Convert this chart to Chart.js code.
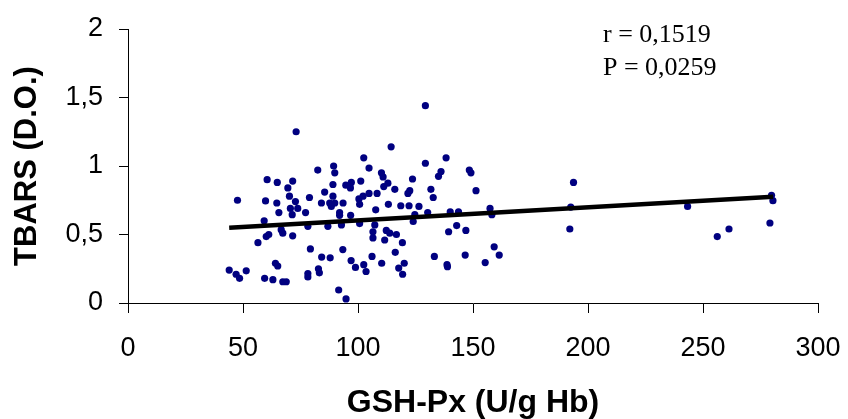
<!DOCTYPE html>
<html>
<head>
<meta charset="utf-8">
<script src="https://cdn.jsdelivr.net/npm/chart.js@4/dist/chart.umd.min.js"></script>
<style>
    html, body { margin: 0; padding: 0; background: #fff; }
    #wrap { width: 848px; height: 419px; }
</style>
</head>
<body>
<div id="wrap"><canvas id="scatter" width="848" height="419"></canvas></div>
<script>
// GSH-Px (U/g Hb) vs TBARS (D.O.)
var gshPx = [
    44, 47, 48.5, 51.4, 47.6, 59.4, 63, 67.3, 68.8, 64.1, 65.1, 56.5, 60.1, 61.2, 59.2, 66.6,
    67.3, 71.6, 59.8, 64.7, 60.5, 64.9, 71.6, 69.5, 70.2, 72.8, 78.9, 65.6, 70.6, 71.4, 73.8,
    77.2, 73.1, 82.5, 78.2, 79.3, 78.2, 78.2, 82.8, 83.2, 84.2, 87.9, 91.6, 94.8, 93.4, 97,
    98.9, 102.5, 103.5, 86.9,
    89.4, 89.9, 104.8, 102.5, 110.2, 110.9, 113, 111.2, 116, 101.2, 97.1, 96.7, 94.7, 89.1,
    85.5, 89.1, 123.7, 121.7, 122.5, 104.8, 102.2, 100.4, 108.3, 84.1, 87.7, 89.9, 88.4, 93.5,
    92, 92, 96.8, 100.7, 107.7, 113.2, 118.6, 122.2, 126.5, 124.7, 124, 92.8, 100.7, 106.5,
    107.3, 112.3, 113.8, 111.6, 116.7, 119.3, 106.5,
    129.3, 114.4, 129.3, 138.3, 136.1, 135, 148.4, 149.1, 151.3, 131.7, 132.7, 130.3, 140.1,
    143.7, 157.4, 158.2, 139.4, 142.9, 146.9, 116.2, 106.1, 110.3, 120.1, 117.7, 119.4, 133.2,
    138.7, 138.9, 146.6, 155.3, 159.2, 161.4, 193.7, 192.5, 192.1, 243.3, 256.2, 261.3, 279.8,
    280.4, 279.1
];
var tbars = [
    0.24, 0.21, 0.18, 0.235, 0.75, 0.18, 0.17, 0.155, 0.155, 0.29, 0.27, 0.44, 0.485, 0.50, 0.60, 0.535,
    0.51, 0.49, 0.745, 0.73, 0.90, 0.88, 0.89, 0.84, 0.78, 0.74, 0.77, 0.66, 0.69, 0.645, 0.69,
    0.66, 1.25, 0.97, 0.56, 0.395, 0.215, 0.19, 0.25, 0.22, 0.335, 0.33, 0.095, 0.03, 0.39, 0.31,
    0.26, 0.28, 0.23, 0.56,
    1.00, 0.95, 0.985, 1.06, 0.95, 0.92, 0.875, 0.85, 0.83, 0.89, 0.88, 0.84, 0.86, 0.865,
    0.81, 0.78, 0.905, 0.80, 0.82, 0.80, 0.78, 0.76, 0.80, 0.73, 0.73, 0.73, 0.705, 0.73,
    0.66, 0.64, 0.64, 0.72, 0.68, 0.72, 0.71, 0.71, 0.705, 0.645, 0.595, 0.57, 0.58, 0.52,
    0.57, 0.53, 0.51, 0.46, 0.50, 0.44, 0.475,
    1.44, 1.14, 1.02, 1.06, 0.96, 0.925, 0.97, 0.95, 0.82, 0.83, 0.77, 0.66, 0.665,
    0.665, 0.69, 0.645, 0.52, 0.565, 0.53, 0.37, 0.34, 0.29, 0.29, 0.255, 0.21, 0.34,
    0.28, 0.265, 0.35, 0.295, 0.41, 0.35, 0.88, 0.70, 0.54, 0.705, 0.485, 0.54, 0.786,
    0.747, 0.584
];

// linear trend line endpoints
var trendX = [44, 280.5];
var trendY = [0.55, 0.775];

var xTicks = [0, 50, 100, 150, 200, 250, 300];
var yTickLabels = ['0', '0,5', '1', '1,5', '2'];

var statsText = ['r = 0,1519', 'P = 0,0259'];

(function () {
    var points = gshPx.map(function (x, i) { return { x: x, y: tbars[i] }; });
    var trend = trendX.map(function (x, i) { return { x: x, y: trendY[i] }; });

    var sans = "'Liberation Sans', Arial, sans-serif";

    var statsPlugin = {
        id: 'stats',
        afterDraw: function (chart) {
            var ctx = chart.ctx;
            ctx.save();
            ctx.fillStyle = '#000';
            ctx.font = "26px 'Liberation Serif', 'Times New Roman', serif";
            ctx.textBaseline = 'alphabetic';
            ctx.textAlign = 'left';
            ctx.fillText(statsText[0], 603, 42);
            ctx.fillText(statsText[1], 603, 75);
            ctx.restore();
        }
    };

    new Chart(document.getElementById('scatter').getContext('2d'), {
        type: 'scatter',
        data: {
            datasets: [
                {
                    label: 'TBARS',
                    data: points,
                    backgroundColor: '#000080',
                    borderColor: '#000080',
                    borderWidth: 0,
                    pointRadius: 3.6,
                    order: 2
                },
                {
                    label: 'trend',
                    type: 'line',
                    data: trend,
                    borderColor: '#000',
                    borderWidth: 4.5,
                    pointRadius: 0,
                    fill: false,
                    order: 1
                }
            ]
        },
        options: {
            responsive: false,
            animation: false,
            devicePixelRatio: 1,
            layout: { padding: { top: 29, right: 30, left: 0, bottom: 0 } },
            plugins: {
                legend: { display: false },
                tooltip: { enabled: false }
            },
            scales: {
                x: {
                    type: 'linear',
                    min: 0,
                    max: 300,
                    afterBuildTicks: function (scale) {
                        scale.ticks = xTicks.map(function (v) { return { value: v }; });
                    },
                    afterFit: function (scale) {
                        scale.height = 116;
                        scale.paddingLeft = 0;
                        scale.paddingRight = 0;
                    },
                    ticks: {
                        color: '#000',
                        font: { family: sans, size: 27 },
                        padding: 19,
                        maxRotation: 0
                    },
                    grid: {
                        drawOnChartArea: false,
                        tickLength: 10,
                        tickColor: '#000',
                        tickWidth: 1
                    },
                    border: { color: '#000', width: 1 },
                    title: {
                        display: true,
                        text: 'GSH-Px (U/g Hb)',
                        color: '#000',
                        font: { family: sans, size: 32, weight: 'bold' },
                        padding: { top: 0, bottom: -3 }
                    }
                },
                y: {
                    min: 0,
                    max: 2,
                    ticks: {
                        stepSize: 0.5,
                        color: '#000',
                        font: { family: sans, size: 27 },
                        padding: 16,
                        callback: function (value) {
                            return yTickLabels[Math.round(value * 2)];
                        }
                    },
                    afterFit: function (scale) {
                        scale.width = 128;
                        scale.paddingTop = 0;
                        scale.paddingBottom = 0;
                    },
                    grid: {
                        drawOnChartArea: false,
                        tickLength: 9,
                        tickColor: '#000',
                        tickWidth: 1
                    },
                    border: { color: '#000', width: 1 },
                    title: {
                        display: true,
                        text: 'TBARS (D.O.)',
                        color: '#000',
                        font: { family: sans, size: 31, weight: 'bold' },
                        padding: { top: 9, bottom: 0 }
                    }
                }
            }
        },
        plugins: [statsPlugin]
    });
})();
</script>
</body>
</html>
